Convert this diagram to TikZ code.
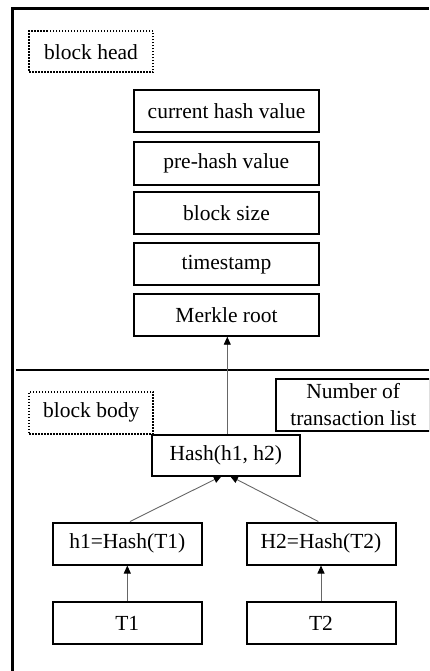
\documentclass[tikz,border=0pt]{standalone}
\usepackage{fontspec}
\setmainfont{Liberation Serif}
\usetikzlibrary{arrows.meta}
\tikzset{
  field/.style={draw, line width=2pt, minimum width=185pt, minimum height=42pt,
    inner sep=0pt, font=\fontsize{21.5}{26}\selectfont},
  treebox/.style={field, minimum width=149pt},
  label box/.style={draw, line width=2pt, dash pattern=on 1.5pt off 1.5pt,
    minimum width=124pt, minimum height=41pt,
    inner sep=0pt, font=\fontsize{21.5}{26}\selectfont},
  link/.style={draw=black!60, line width=0.9pt, -{Triangle[length=8pt,width=7pt,fill=black,color=black]}}
}
\begin{document}
\begin{tikzpicture}[x=1pt,y=-1pt]
  \useasboundingbox (0,0) rectangle (429,671);
  \clip (0,0) rectangle (429,671);
  % outer frame and the divider between head and body
  \draw[line width=3pt] (12.5,671) -- (12.5,8.5) -- (429,8.5);
  \draw[line width=2pt] (16,369.5) -- (429,369.5);
  % block head
  \node[label box] (head) at (91,52) {block head};
  \node[field] (cur)  at (226.5,110.8) {current hash value};
  \node[field] (pre)  at (226.3,163.5) {pre-hash value};
  \node[field] (size) at (226.5,213) {block size};
  \node[field] (time) at (226.5,264.2) {timestamp};
  \node[field] (root) at (226.5,314.7) {Merkle root};
  % block body
  \node[label box, minimum height=42pt] (body) at (91.2,412.8) {block body};
  \node[draw, line width=2pt, minimum width=154pt, minimum height=52pt, inner sep=0pt,
    align=center, font=\fontsize{21.5}{27}\selectfont] (ntx) at (353.3,404.7)
    {Number of\\transaction list};
  \node[treebox, minimum width=148pt, minimum height=41pt] (hash) at (225.8,455.5) {Hash(h1, h2)};
  \node[treebox] (h1) at (127.3,543.5) {h1=Hash(T1)};
  \node[treebox] (h2) at (321,543.5) {H2=Hash(T2)};
  \node[treebox] (t1) at (127.3,623) {T1};
  \node[treebox] (t2) at (321,623) {T2};
  % hashing links
  \draw[link] (hash.north -| 227.3,0) -- (root.south -| 227.3,0);
  \draw[link] (h1.north -| 130,0) -- (221.7,476);
  \draw[link] (h2.north -| 318.3,0) -- (230,476);
  \draw[link] (t1) -- (h1);
  \draw[link] (t2) -- (h2);
\end{tikzpicture}
\end{document}
